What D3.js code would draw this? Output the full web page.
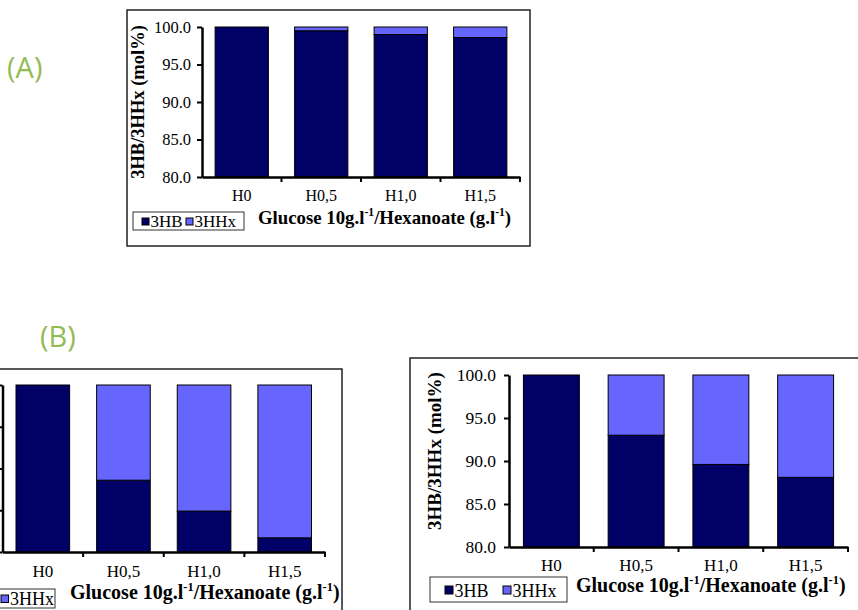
<!DOCTYPE html>
<html><head><meta charset="utf-8">
<script src="https://cdn.jsdelivr.net/npm/d3@7"></script>
<style>body{margin:0;background:#fff}svg{display:block}</style>
</head><body><svg id="c" width="858" height="610"></svg>
<script>
// ---- data ----
const categories = ["H0", "H0,5", "H1,0", "H1,5"];
const seriesNames = ["3HB", "3HHx"];
const hbA      = [100.0, 99.5, 99.0, 98.6];
const hhxA     = [0.0, 0.5, 1.0, 1.4];
const hbBLeft  = [100.0, 88.6, 84.9, 81.7];
const hhxBLeft = [0.0, 11.4, 15.1, 18.3];
const hbBRight = [100.0, 93.0, 89.6, 88.1];
const hhxBRight= [0.0, 7.0, 10.4, 11.9];
const yTicks = [80, 85, 90, 95, 100];
const yDomain = [80, 100];
const panelLabels = ["(A)", "(B)"];
const yTitle = "3HB/3HHx (mol%)";

const colors = {"3HB": "#000066", "3HHx": "#6666FF"};
const svg = d3.select("#c");
const serif = "'Liberation Serif','Times New Roman',serif";

function drawPanel(cfg, hb, hhx) {
  const g = svg.append("g");
  // frame
  g.append("rect").attr("x", cfg.frame[0]).attr("y", cfg.frame[1])
    .attr("width", cfg.frame[2]).attr("height", cfg.frame[3])
    .attr("fill", "#fff").attr("stroke", "#222").attr("stroke-width", 1.5);

  const x = d3.scaleBand().domain(categories).range([cfg.x0, cfg.x1])
    .paddingInner(cfg.pad).paddingOuter(cfg.pad / 2);
  const y = d3.scaleLinear().domain(yDomain).range([cfg.yBot, cfg.yTop]);

  const rows = categories.map((c, i) => ({cat: c, "3HB": hb[i], "3HHx": hhx[i]}));
  const stacked = d3.stack().keys(seriesNames)(rows);
  stacked.forEach(layer => {
    g.selectAll(null).data(layer.filter(d => d[1] - d[0] > 0)).enter().append("rect")
      .attr("x", d => x(d.data.cat))
      .attr("width", x.bandwidth())
      .attr("y", d => y(Math.min(d[1], yDomain[1])))
      .attr("height", d => y(Math.max(d[0], yDomain[0])) - y(Math.min(d[1], yDomain[1])))
      .attr("fill", colors[layer.key])
      .attr("stroke", "#000").attr("stroke-width", 1);
  });

  // y axis
  const ya = d3.axisLeft(y).tickValues(yTicks).tickFormat(d3.format(".1f"))
    .tickSize(5).tickSizeOuter(0).tickPadding(cfg.tickPad);
  const yg = g.append("g").attr("transform", `translate(${cfg.x0},0)`).call(ya);
  yg.select(".domain").attr("stroke", "#000").attr("stroke-width", 2.5);
  yg.selectAll(".tick line").attr("stroke", "#000").attr("stroke-width", 2);
  yg.selectAll(".tick text").attr("font-family", serif).attr("font-size", cfg.tickFs).attr("fill", "#000");
  if (cfg.hideYLabels) yg.selectAll(".tick text").remove();

  // x axis
  const xa = d3.axisBottom(x).tickSize(0).tickPadding(cfg.xLabPad);
  const xg = g.append("g").attr("transform", `translate(0,${cfg.yBot})`).call(xa);
  xg.select(".domain").attr("stroke", "#000").attr("stroke-width", 2.5);
  xg.selectAll(".tick text").attr("font-family", serif).attr("font-size", cfg.xFs).attr("fill", "#000");
  // band boundary ticks
  const bounds = categories.map(c => x(c) - x.step() * x.paddingInner() / 2).slice(1).concat([cfg.x1]);
  xg.selectAll("line.bt").data(bounds).enter().append("line")
    .attr("x1", d => d).attr("x2", d => d).attr("y1", 0).attr("y2", 5)
    .attr("stroke", "#000").attr("stroke-width", 2);

  // y title
  if (cfg.yt[0] > 0) {
    g.append("text").attr("transform", `translate(${cfg.yt[0]},${cfg.yt[1]}) rotate(-90)`)
      .attr("text-anchor", "middle").attr("font-family", serif).attr("font-weight", "bold")
      .attr("font-size", cfg.ytFs).text(yTitle);
  }

  // x title
  const t = g.append("text").attr("x", cfg.xt[0]).attr("y", cfg.xt[1])
    .attr("font-family", serif).attr("font-weight", "bold").attr("font-size", cfg.xtFs);
  t.append("tspan").text("Glucose 10g.l");
  t.append("tspan").attr("dy", -cfg.xtFs * 0.4).attr("font-size", cfg.xtFs * 0.62).text("-1");
  t.append("tspan").attr("dy", cfg.xtFs * 0.4).text("/Hexanoate (g.l");
  t.append("tspan").attr("dy", -cfg.xtFs * 0.4).attr("font-size", cfg.xtFs * 0.62).text("-1");
  t.append("tspan").attr("dy", cfg.xtFs * 0.4).text(")");

  // legend
  const L = cfg.leg;
  g.append("rect").attr("x", L.box[0]).attr("y", L.box[1]).attr("width", L.box[2]).attr("height", L.box[3])
    .attr("fill", "#fff").attr("stroke", "#333").attr("stroke-width", 1);
  seriesNames.forEach((s, i) => {
    g.append("rect").attr("x", L.items[i]).attr("y", L.sy).attr("width", L.ss).attr("height", L.ss)
      .attr("fill", colors[s]).attr("stroke", "#000").attr("stroke-width", 1);
    if (L.items[i] >= 0) {
      g.append("text").attr("x", L.items[i] + L.ss + 1.5).attr("y", L.base)
        .attr("font-family", serif).attr("font-size", L.fs).text(s);
    }
  });
}

// Panel A
drawPanel({
  frame: [127, 10, 403, 236], x0: 202, x1: 520, yTop: 27, yBot: 177, pad: 0.33,
  tickPad: 6, tickFs: 16.5, xLabPad: 13, xFs: 16,
  yt: [144, 102], ytFs: 18.5, xt: [258, 224], xtFs: 18.8,
  leg: {box: [133, 212, 111, 18], items: [142, 186], sy: 218, ss: 7, base: 227, fs: 17}
}, hbA, hhxA);

// Panel B left
drawPanel({
  frame: [-20, 369, 362, 260], x0: 2.5, x1: 325, yTop: 385, yBot: 552, pad: 0.335,
  tickPad: 6, tickFs: 17.5, xLabPad: 13, xFs: 17, hideYLabels: true,
  yt: [-60, 468], ytFs: 19, xt: [70, 599], xtFs: 20,
  leg: {box: [-90, 589, 145, 19], items: [-40, 1], sy: 595, ss: 7.5, base: 604.5, fs: 18}
}, hbBLeft, hhxBLeft);

// Panel B right
drawPanel({
  frame: [410, 358, 460, 270], x0: 509, x1: 848, yTop: 375, yBot: 547, pad: 0.34,
  tickPad: 8, tickFs: 17.5, xLabPad: 12, xFs: 17,
  yt: [441, 451], ytFs: 19, xt: [576, 592], xtFs: 20,
  leg: {box: [430, 577, 137, 25], items: [445, 503], sy: 586, ss: 8, base: 597, fs: 18}
}, hbBRight, hhxBRight);

// panel labels
svg.append("text").attr("x", 7).attr("y", 78).attr("font-family", "'Open Sans',Lato,sans-serif")
  .attr("font-weight", 400).attr("font-size", 29).attr("fill", "#92BB55").text(panelLabels[0]);
svg.append("text").attr("x", 40).attr("y", 347).attr("font-family", "'Open Sans',Lato,sans-serif")
  .attr("font-weight", 400).attr("font-size", 29).attr("fill", "#92BB55").text(panelLabels[1]);
</script></body></html>
